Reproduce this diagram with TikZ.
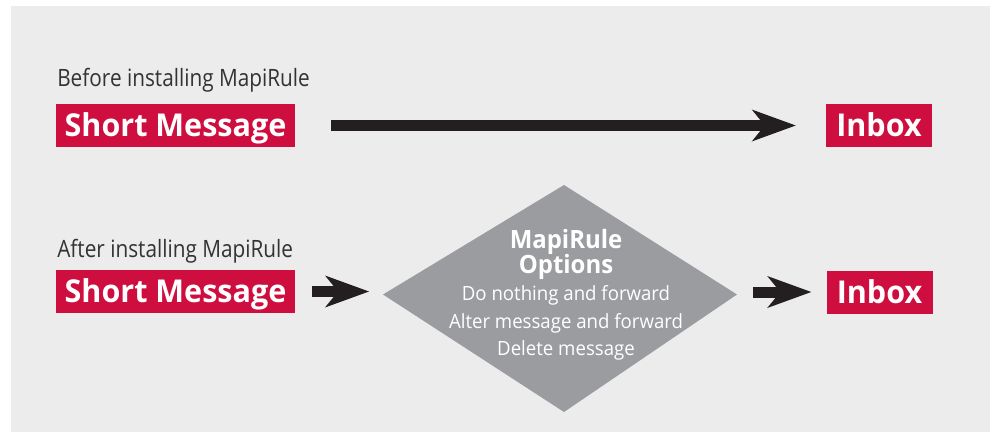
\documentclass[tikz,border=0pt]{standalone}
\usepackage{fontspec}
\setmainfont{Open Sans}
\newfontfamily\lblfont[FakeStretch=0.87]{Open Sans}
\newfontfamily\boxfont[FakeStretch=0.97]{Open Sans}
\newfontfamily\diafont[FakeStretch=0.95]{Open Sans}
\usetikzlibrary{arrows.meta}
\definecolor{mrred}{RGB}{206,14,62}
\definecolor{bggray}{RGB}{236,236,236}
\definecolor{diagray}{RGB}{155,156,160}
\definecolor{arrowblk}{RGB}{35,31,32}
\definecolor{lbltext}{RGB}{51,51,51}
\tikzset{
  redbox/.style={fill=mrred, text=white, inner sep=0pt, minimum height=43*0.75pt,
    text height=22.5*0.75pt, text depth=0pt, font=\boxfont\bfseries\fontsize{23.6pt}{26pt}\selectfont},
  lbl/.style={text=lbltext, inner sep=0pt, anchor=base west, font=\lblfont\fontsize{17.9pt}{20pt}\selectfont},
  dtitle/.style={text=white, inner sep=0pt, anchor=base, font=\diafont\bfseries\fontsize{18.9pt}{21pt}\selectfont},
  dtxt/.style={text=white, inner sep=0pt, anchor=base, font=\diafont\fontsize{14.7pt}{17pt}\selectfont},
  bigarrow/.style={draw=arrowblk, line width=8.25pt,
    -{Stealth[length=33pt 0 0, width=24pt 0 0, inset=9.75pt 0 0, line width=0pt, fill=arrowblk]}}
}
\begin{document}
\begin{tikzpicture}[x=0.75pt,y=-0.75pt]
\useasboundingbox (0,0) rectangle (992,432);
\fill[bggray] (11,6) rectangle (990,432);

% row 1
\node[lbl] (before) at (57,86) {Before installing MapiRule};
\node[redbox, minimum width=239*0.75pt] (sm1) at (175.5,125.5) {Short Message};
\node[redbox, minimum width=106*0.75pt] (in1) at (879,125.5) {Inbox};
\draw[bigarrow, shorten <=36*0.75pt, shorten >=30*0.75pt] (sm1.east) -- (in1.west);

% row 2
\node[lbl] (after) at (57,257) {After installing MapiRule};
\node[redbox, minimum width=239*0.75pt] (sm2) at (175.5,291.5) {Short Message};
\node[redbox, minimum width=106*0.75pt] (in2) at (879.5,292) {Inbox};

% diamond
\coordinate (dl) at (383,294.5);
\coordinate (dt) at (564,185);
\coordinate (dr) at (737,294.5);
\coordinate (db) at (564,412);
\fill[diagray] (dl) -- (dt) -- (dr) -- (db) -- cycle;
\node[dtitle] (t1) at (566,248) {MapiRule};
\node[dtitle] (t2) at (566,273) {Options};
\node[dtxt] (l1) at (566,300) {Do nothing and forward};
\node[dtxt] (l2) at (566,328) {Alter message and forward};
\node[dtxt] (l3) at (566,355) {Delete message};

\draw[bigarrow, shorten <=17*0.75pt, shorten >=14*0.75pt] (sm2.east) -- (sm2.east -| dl);
\draw[bigarrow, shorten <=16*0.75pt, shorten >=15*0.75pt] (in2.west -| dr) -- (in2.west);
\end{tikzpicture}
\end{document}
